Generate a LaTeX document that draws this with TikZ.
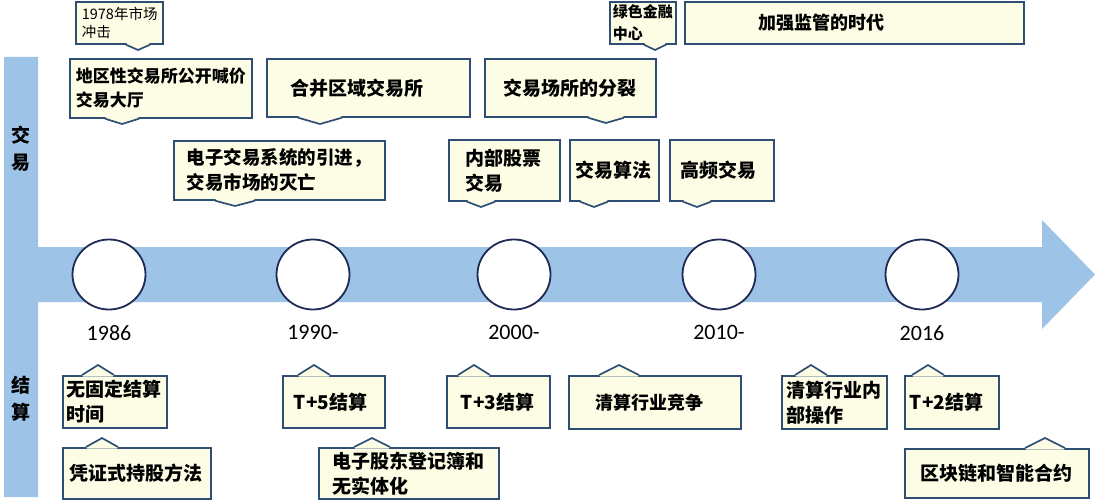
\documentclass[tikz,border=0pt]{standalone}
\usepackage{fontspec}
\setmainfont{Noto Sans CJK SC}
\newfontfamily\yearfont{Carlito}
\usepackage{tikz}
\usetikzlibrary{positioning,shapes.geometric,calc}

\definecolor{barblue}{HTML}{9DC3E6}
\definecolor{notefill}{HTML}{FDFDE6}
\definecolor{noteline}{HTML}{2E4E74}
\definecolor{ringline}{HTML}{1F2A55}

% pointer under / over a note box: #1 box, #2 tip coordinate, #3 half width
\newcommand{\pindown}[3]{%
  \fill[notefill] ($(#2 |- #1.south)+(-#3+1,-1.6)$) -- ($(#2 |- #1.south)+(-#3,0)$) -- (#2)
    -- ($(#2 |- #1.south)+(#3,0)$) -- ($(#2 |- #1.south)+(#3-1,-1.6)$) -- cycle;
  \draw[pin] ($(#2 |- #1.south)+(-#3,0)$) -- (#2) -- ($(#2 |- #1.south)+(#3,0)$);}
\newcommand{\pinup}[3]{%
  \fill[notefill] ($(#2 |- #1.north)+(-#3+1,1.6)$) -- ($(#2 |- #1.north)+(-#3,0)$) -- (#2)
    -- ($(#2 |- #1.north)+(#3,0)$) -- ($(#2 |- #1.north)+(#3-1,1.6)$) -- cycle;
  \draw[pin] ($(#2 |- #1.north)+(-#3,0)$) -- (#2) -- ($(#2 |- #1.north)+(#3,0)$);}

\begin{document}
\begin{tikzpicture}[
  x=1pt, y=-1pt,
  note/.style={draw=noteline,fill=notefill,line width=1.7pt,rectangle,anchor=north west,
    inner ysep=0pt,align=left,font=\bfseries\fontsize{19}{25}\selectfont},
  fs/.style 2 args={font=\bfseries\fontsize{#1}{#2}\selectfont},
  pin/.style={draw=noteline,line width=1.7pt,line join=miter},
  ring/.style={draw=ringline,fill=white,ellipse,line width=1.8pt,minimum width=73pt,minimum height=70pt,inner sep=0pt},
  year/.style={font=\yearfont\fontsize{22}{24}\selectfont,inner sep=0pt},
  barlabel/.style={font=\bfseries\fontsize{19}{27}\selectfont,align=center,inner sep=0pt}
]
\useasboundingbox (0,0) rectangle (1097,500);

% timeline bar
\fill[barblue] (4,57) -- (38,57) -- (38,247) -- (1042,247) -- (1042,220) -- (1095,274.5)
  -- (1042,329) -- (1042,302) -- (38,302) -- (38,497) -- (4,497) -- cycle;
\node[barlabel] (trade) at (21,148.5) {交\\易};
\node[barlabel] (clear) at (21,398.5) {结\\算};

\foreach \x/\yr [count=\i] in {109/1986,313/1990-,514/2000-,719/2010-,922/2016}{
  \node[ring] (ring\i) at (\x,274.5) {};
  \node[year,below=15pt of ring\i] (year\i) {\yr};
}

% trading
\node[note,font=\fontsize{14.5}{18}\selectfont,minimum width=87pt,minimum height=42pt,inner xsep=6pt,text width=75pt] (t1978) at (75,1) {1978年市场\\冲击};
\node[note,fs={17}{24},minimum width=182pt,minimum height=59pt,inner xsep=6pt,text width=170pt] (tHall) at (69,58) {地区性交易所公开喊价\\交易大厅};
\node[note,minimum width=203pt,minimum height=58pt,inner xsep=24pt,text width=155pt] (tMerge) at (266,58) {合并区域交易所};
\node[note,fs={18.5}{25},minimum width=211pt,minimum height=59pt,inner xsep=13pt,text width=185pt] (tElec) at (173,140) {电子交易系统的引进，\\交易市场的灭亡};
\node[note,minimum width=171pt,minimum height=58pt,inner xsep=19pt,text width=133pt] (tSplit) at (484,58) {交易场所的分裂};
\node[note,fs={15}{22},minimum width=66pt,minimum height=42pt,inner xsep=3pt,text width=60pt] (tGreen) at (609,1) {绿色金融\\中心};
\node[note,fs={18}{25},minimum width=339pt,minimum height=42pt,inner xsep=74pt,text width=191pt] (tReg) at (684,1) {加强监管的时代};
\node[note,minimum width=111pt,minimum height=61pt,inner xsep=17pt,text width=77pt] (tInt) at (448,139) {内部股票\\交易};
\node[note,minimum width=89pt,minimum height=61pt,inner xsep=6pt,text width=77pt] (tAlgo) at (569,139) {交易算法};
\node[note,minimum width=104pt,minimum height=61pt,inner xsep=11pt,text width=82pt] (tHft) at (669,139) {高频交易};

\coordinate (p1978) at (138,50);
\coordinate (pHall) at (122,124);
\coordinate (pMerge) at (320,124);
\coordinate (pElec) at (235,206);
\coordinate (pSplit) at (606,123);
\coordinate (pGreen) at (655,50);
\coordinate (pInt) at (481,207);
\coordinate (pAlgo) at (594,207);
\coordinate (pHft) at (697,207);
\pindown{t1978}{p1978}{12}
\pindown{tHall}{pHall}{17}
\pindown{tMerge}{pMerge}{22}
\pindown{tElec}{pElec}{20}
\pindown{tSplit}{pSplit}{18}
\pindown{tGreen}{pGreen}{11}
\pindown{tInt}{pInt}{14}
\pindown{tAlgo}{pAlgo}{14}
\pindown{tHft}{pHft}{14}

% clearing
\node[note,minimum width=104pt,minimum height=52pt,inner xsep=4pt,text width=96pt] (bNone) at (62,375) {无固定结算\\时间};
\node[note,minimum width=148pt,minimum height=51pt,inner xsep=7pt,text width=134pt] (bCert) at (62,447) {凭证式持股方法};
\node[note,minimum width=102pt,minimum height=52pt,inner xsep=11pt,text width=80pt] (bT5) at (282,375) {T+5结算};
\node[note,minimum width=180pt,minimum height=51pt,inner xsep=14pt,text width=152pt] (bReg) at (318,447) {电子股东登记簿和\\无实体化};
\node[note,minimum width=103pt,minimum height=52pt,inner xsep=14pt,text width=75pt] (bT3) at (446,375) {T+3结算};
\node[note,fs={18}{25},minimum width=172pt,minimum height=53pt,inner xsep=27pt,text width=118pt] (bComp) at (568,375) {清算行业竞争};
\node[note,minimum width=105pt,minimum height=53pt,inner xsep=5pt,text width=95pt] (bInner) at (781,375) {清算行业内\\部操作};
\node[note,minimum width=94pt,minimum height=53pt,inner xsep=5pt,text width=84pt] (bT2) at (904,375) {T+2结算};
\node[note,minimum width=184pt,minimum height=49pt,inner xsep=16pt,text width=152pt] (bChain) at (904,448) {区块链和智能合约};

\coordinate (qNone) at (98,365);
\coordinate (qCert) at (102,438);
\coordinate (qT5) at (314,365);
\coordinate (qReg) at (372,438);
\coordinate (qT3) at (474,365);
\coordinate (qComp) at (619,365);
\coordinate (qInner) at (811,365);
\coordinate (qT2) at (928,365);
\coordinate (qChain) at (1045,438);
\pinup{bNone}{qNone}{16}
\pinup{bCert}{qCert}{16}
\pinup{bT5}{qT5}{16}
\pinup{bReg}{qReg}{18}
\pinup{bT3}{qT3}{16}
\pinup{bComp}{qComp}{20}
\pinup{bInner}{qInner}{16}
\pinup{bT2}{qT2}{16}
\pinup{bChain}{qChain}{20}

\end{tikzpicture}
\end{document}
